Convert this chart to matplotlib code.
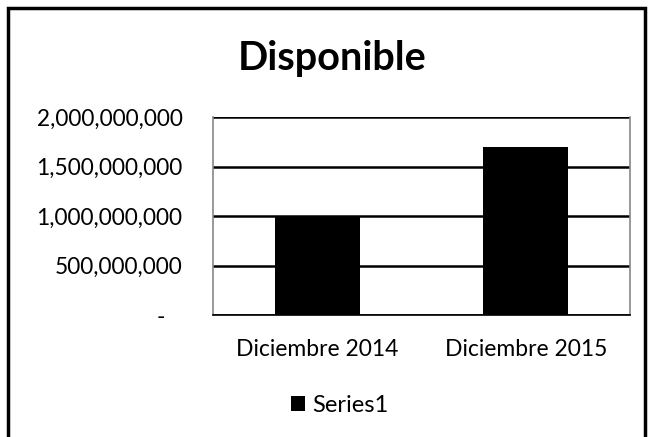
import matplotlib.pyplot as plt
from matplotlib.patches import Rectangle
from matplotlib.ticker import FuncFormatter

# Data
categories = ['Diciembre 2014', 'Diciembre 2015']
values = [1000000000, 1700000000]
series_name = 'Series1'
yticks = [0, 500000000, 1000000000, 1500000000, 2000000000]

plt.rcParams['font.family'] = ['Lato', 'DejaVu Sans']

fig = plt.figure(figsize=(6.49, 4.37), dpi=100)
ax = fig.add_axes([213/649, 1 - 315/437, 417/649, 198/437])

ax.bar(categories, values, width=0.41, color='black', label=series_name, zorder=3)
ax.set_xlim(-0.5, 1.5)
ax.set_ylim(0, 2000000000)
ax.set_yticks(yticks)

# Excel accounting style: zero shown as a dash
def fmt(v, pos):
    return '-   ' if v == 0 else f'{int(v):,}'

ax.yaxis.set_major_formatter(FuncFormatter(fmt))
ax.grid(axis='y', color='black', linewidth=1.8, zorder=1)
ax.tick_params(length=0, labelsize=16.3)
ax.tick_params(axis='y', pad=22)
ax.tick_params(axis='x', labelsize=16.5, pad=17)
for side in ['left', 'right']:
    ax.spines[side].set_color('#888888')
    ax.spines[side].set_linewidth(1.2)
ax.spines['top'].set_visible(False)
ax.spines['bottom'].set_color('black')
ax.spines['bottom'].set_linewidth(1.2)

fig.text(332/649, 1 - 70/437, 'Disponible', ha='center', va='baseline',
         fontsize=28.5, fontweight='bold')

fig.legend(loc='center', bbox_to_anchor=(340/649, 1 - 405/437), frameon=False,
           fontsize=17, handlelength=0.6, handleheight=0.6, handletextpad=0.3)

# outer chart border
fig.patches.append(Rectangle((8/649, -0.05), 637/649, 1.05 - 8/437,
                             transform=fig.transFigure, fill=False,
                             edgecolor='black', linewidth=2.5))

fig.savefig('out.png', dpi=100)
